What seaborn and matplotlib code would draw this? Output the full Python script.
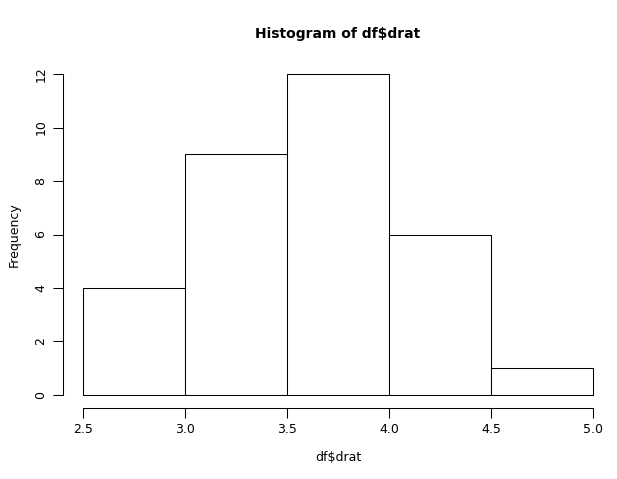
import numpy as np
import matplotlib
matplotlib.use("Agg")
import matplotlib.pyplot as plt
import seaborn as sns

# histogram of df$drat (R base style)
bin_edges = [2.5, 3.0, 3.5, 4.0, 4.5, 5.0]
counts = [4, 9, 12, 6, 1]
x_ticks = [2.5, 3.0, 3.5, 4.0, 4.5, 5.0]
y_ticks = [0, 2, 4, 6, 8, 10, 12]

centers = [(a + b) / 2 for a, b in zip(bin_edges[:-1], bin_edges[1:])]

sns.set_style("white")
plt.rcParams['font.family'] = ['DejaVu Sans']
plt.rcParams['text.color'] = 'black'
plt.rcParams['axes.labelcolor'] = 'black'
plt.rcParams['xtick.color'] = 'black'
plt.rcParams['ytick.color'] = 'black'

fig = plt.figure(figsize=(6.17, 4.79), dpi=100)
ax = fig.add_axes([0.1015, 0.1486, 0.8927, 0.7236])

sns.histplot(x=centers, weights=counts, bins=bin_edges, ax=ax,
             color="white", edgecolor="black", linewidth=0.75, alpha=1)

ax.set_xlim(2.4, 5.1)
ax.set_ylim(-0.48, 12.48)
ax.set_xticks(x_ticks)
ax.set_xticklabels(["2.5", "3.0", "3.5", "4.0", "4.5", "5.0"])
ax.set_yticks(y_ticks)
ax.set_yticklabels([str(v) for v in y_ticks], rotation=90, va="center")

for s in ["top", "right"]:
    ax.spines[s].set_visible(False)
ax.spines["left"].set_bounds(0, 12)
ax.spines["bottom"].set_bounds(2.5, 5.0)
for s in ["left", "bottom"]:
    ax.spines[s].set_color("black")
    ax.spines[s].set_linewidth(0.75)
ax.tick_params(axis="both", direction="out", length=7, width=0.75,
               color="black", labelcolor="black", labelsize=9, pad=4,
               left=True, bottom=True)

ax.set_xlabel(r"df\$drat", fontsize=9, labelpad=11)
ax.set_ylabel("Frequency", fontsize=9, labelpad=10)
ax.set_title(r"Histogram of df\$drat", fontsize=10, fontweight="bold",
             pad=17, color="black")

fig.savefig("out.png", dpi=100)
